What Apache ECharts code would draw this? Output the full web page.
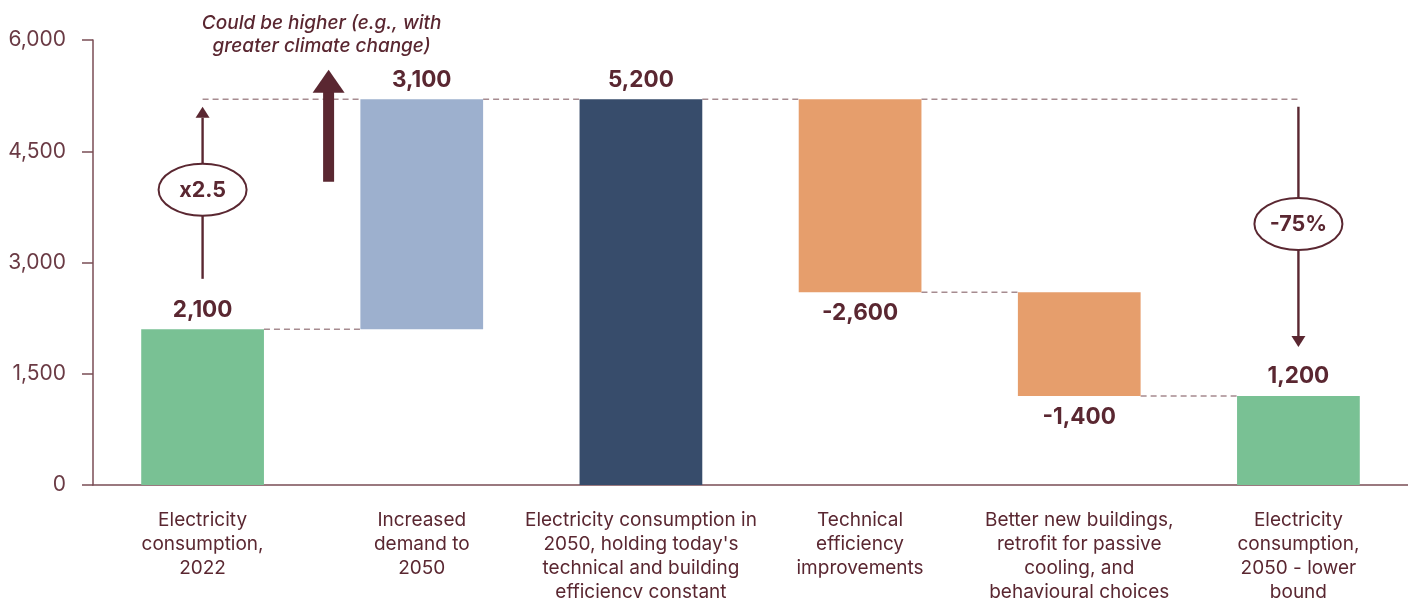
<!DOCTYPE html>
<html>
<head>
<meta charset="utf-8">
<script src="https://cdn.jsdelivr.net/npm/echarts@6/dist/echarts.min.js"></script>
<style>
  html, body { margin: 0; padding: 0; background: #ffffff; }
  #chart { width: 1408px; height: 598px; }
</style>
</head>
<body>
<div id="chart"></div>
<script>
// Waterfall: building electricity consumption, 2022 to 2050 (TWh)
const categories = [
  'Electricity\nconsumption,\n2022',
  'Increased\ndemand to\n2050',
  "Electricity consumption in\n2050, holding today's\ntechnical and building\nefficiency constant",
  'Technical\nefficiency\nimprovements',
  'Better new buildings,\nretrofit for passive\ncooling, and\nbehavioural choices',
  'Electricity\nconsumption,\n2050 - lower\nbound'
];
const values = [2100, 3100, 5200, -2600, -1400, 1200];
const kinds = ['total', 'delta', 'total', 'delta', 'delta', 'total'];
const barColors = ['#79c194', '#9db0ce', '#374c6b', '#e69e6c', '#e69e6c', '#79c194'];
const yTickValues = [0, 1500, 3000, 4500, 6000];

// Annotations (values on the y scale)
const growthNote = { cat: 0, from: 2780, to: 5100, text: 'x2.5', at: 3980 };
const declineNote = { cat: 5, from: 5100, to: 1860, text: '-75%', at: 3520 };
const upsideNote = { between: [0, 1], frac: 0.575, from: 4090, to: 5600,
  text: 'Could be higher (e.g., with\ngreater climate change)' };

const INK = '#5a2731';
const AXIS = '#7a4d55';
const DASH = '#a68b90';
const BAR_RATIO = 0.56;

// Build invisible base + visible segment for every bar
const bases = [], heights = [], levels = [];
let level = 0;
values.forEach((v, i) => {
  if (kinds[i] === 'total') {
    bases.push(0); heights.push(v); level = v;
  } else {
    bases.push(Math.min(level, level + v)); heights.push(Math.abs(v)); level += v;
  }
  levels.push(level);
});

// Dashed connectors: [fromIdx, fromSide, toIdx, toSide, level]; side -1 left edge, 0 centre, 1 right edge
const connectors = [];
for (let i = 0; i < values.length - 1; i++) {
  connectors.push([i, 1, i + 1, -1, levels[i]]);
}
// 2050 reference level carried back to the 2022 bar and forward to the lower bound
connectors.push([0, 0, 1, -1, levels[2]]);
connectors.push([3, 1, 5, 0, levels[2]]);

const fmt = v => v.toLocaleString('en-US');

const chart = echarts.init(document.getElementById('chart'), null, { renderer: 'canvas' });

const option = {
  animation: false,
  backgroundColor: '#ffffff',
  textStyle: { fontFamily: 'Inter', color: INK },
  grid: { left: 93, right: 0, top: 40, bottom: 113, containLabel: false, outerBoundsMode: 'none' },
  xAxis: {
    type: 'category',
    data: categories,
    axisLine: { lineStyle: { color: AXIS, width: 1.5 } },
    axisTick: { show: false },
    axisLabel: {
      interval: 0, margin: 23, color: INK, fontSize: 19, lineHeight: 24,
      fontFamily: 'Inter', align: 'center', verticalAlign: 'top'
    }
  },
  yAxis: {
    type: 'value',
    min: yTickValues[0],
    max: yTickValues[yTickValues.length - 1],
    interval: yTickValues[1] - yTickValues[0],
    axisLine: { show: true, lineStyle: { color: AXIS, width: 1.5 } },
    axisTick: { show: true, length: 11, lineStyle: { color: AXIS, width: 1.5 } },
    splitLine: { show: false },
    axisLabel: {
      margin: 27, color: '#6a3a44', fontSize: 21, fontFamily: 'Inter',
      formatter: v => fmt(v)
    }
  },
  series: [
    {
      name: 'base',
      type: 'bar',
      stack: 'wf',
      barWidth: (BAR_RATIO * 100) + '%',
      itemStyle: { color: 'transparent' },
      emphasis: { disabled: true },
      data: bases,
      z: 3
    },
    {
      name: 'value',
      type: 'bar',
      stack: 'wf',
      barWidth: (BAR_RATIO * 100) + '%',
      emphasis: { disabled: true },
      data: heights.map((h, i) => ({
        value: h,
        itemStyle: { color: barColors[i] },
        label: {
          show: true,
          position: values[i] < 0 ? 'bottom' : 'top',
          distance: values[i] < 0 ? 10 : 8,
          formatter: () => fmt(values[i]),
          color: INK, fontSize: 22.5, fontWeight: 'bold', fontFamily: 'Inter'
        }
      })),
      z: 3
    },
    {
      name: 'connectors',
      type: 'custom',
      silent: true,
      z: 1,
      encode: { x: [0, 2], y: 4 },
      data: connectors,
      renderItem: (params, api) => {
        const half = api.size([1, 0])[0] * BAR_RATIO / 2;
        const a = api.coord([api.value(0), api.value(4)]);
        const b = api.coord([api.value(2), api.value(4)]);
        return {
          type: 'line',
          shape: { x1: a[0] + api.value(1) * half, y1: a[1], x2: b[0] + api.value(3) * half, y2: b[1] },
          style: { stroke: DASH, lineWidth: 1.5, lineDash: [6, 4] }
        };
      }
    }
  ]
};

chart.setOption(option);

// Arrow annotations positioned through the chart's scales
const px = (cat, v) => chart.convertToPixel({ gridIndex: 0 }, [cat, v]);

function thinArrow(note) {
  const x = px(note.cat, 0)[0];
  const y1 = px(note.cat, note.from)[1];
  const y2 = px(note.cat, note.to)[1];
  const yc = px(note.cat, note.at)[1];
  const dir = y2 < y1 ? -1 : 1;
  const headLen = 11, headHalf = 7;
  return [
    { type: 'line', shape: { x1: x, y1: y1, x2: x, y2: y2 - dir * headLen },
      style: { stroke: INK, lineWidth: 2.4 }, z: 10 },
    { type: 'polygon', shape: { points: [[x, y2], [x - headHalf, y2 - dir * headLen], [x + headHalf, y2 - dir * headLen]] },
      style: { fill: INK }, z: 10 },
    { type: 'ellipse', shape: { cx: x, cy: yc, rx: 44, ry: 26 },
      style: { fill: '#ffffff', stroke: INK, lineWidth: 2 }, z: 11 },
    { type: 'text', x: x, y: yc + 1, z: 12,
      style: { text: note.text, fill: INK, font: 'bold 21.5px Inter', align: 'center', verticalAlign: 'middle' } }
  ];
}

function thickArrow(note) {
  const xa = px(note.between[0], 0)[0];
  const xb = px(note.between[1], 0)[0];
  const x = xa + (xb - xa) * note.frac;
  const yBottom = px(0, note.from)[1];
  const yTip = px(0, note.to)[1];
  const headLen = 23, headHalf = 16, shaftHalf = 5.5;
  return [
    { type: 'rect', shape: { x: x - shaftHalf, y: yTip + headLen - 1, width: shaftHalf * 2, height: yBottom - yTip - headLen + 1 },
      style: { fill: INK }, z: 10 },
    { type: 'polygon', shape: { points: [[x, yTip], [x - headHalf, yTip + headLen], [x + headHalf, yTip + headLen]] },
      style: { fill: INK }, z: 10 },
    { type: 'text', x: x - 7, y: yTip - 12, z: 12,
      style: { text: note.text, fill: INK, font: 'italic 500 19px Inter', lineHeight: 23,
               align: 'center', verticalAlign: 'bottom' } }
  ];
}

chart.setOption({
  graphic: { elements: [].concat(thinArrow(growthNote), thinArrow(declineNote), thickArrow(upsideNote)) }
});
</script>
</body>
</html>
